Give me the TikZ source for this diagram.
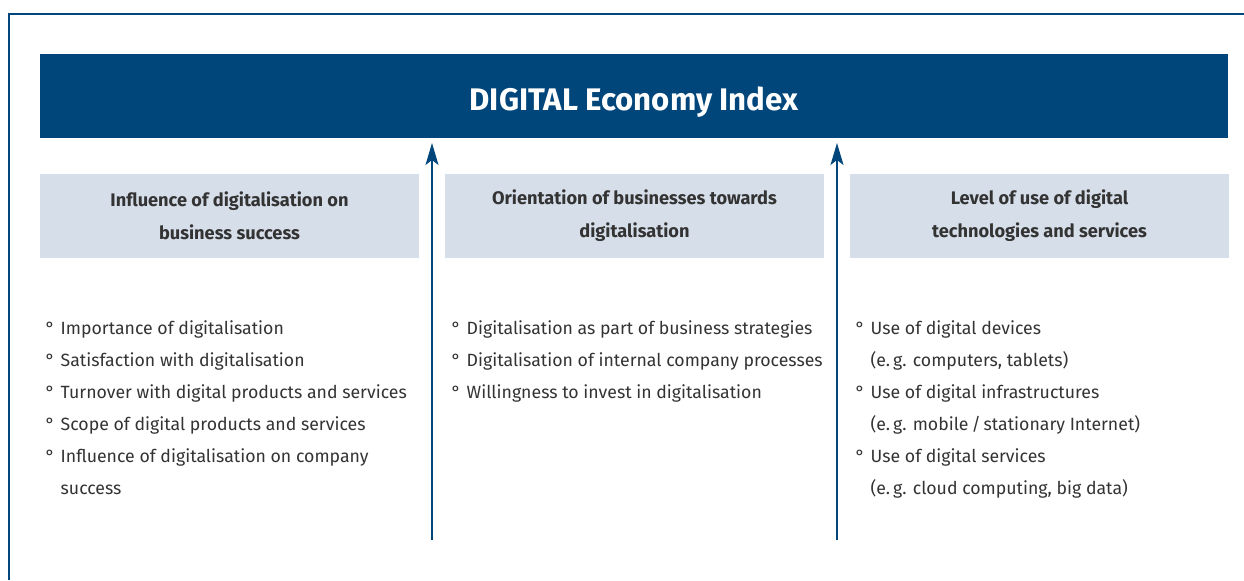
\documentclass[tikz,border=0pt]{standalone}
\usepackage{fontspec}
\setmainfont{Fira Sans}
\usepackage{xcolor}
\usepackage{tikz}
\usetikzlibrary{positioning}
\usetikzlibrary{arrows.meta}

\definecolor{indexblue}{RGB}{0,70,122}
\definecolor{headgray}{RGB}{214,222,233}
\definecolor{textgray}{RGB}{51,51,51}
\newcommand{\itm}{\makebox[7.5pt][l]{\textdegree}}
\newcommand{\cnt}{\hspace*{7.5pt}}

\begin{document}
\begin{tikzpicture}[x=0.5pt, y=-0.5pt, line width=0.7pt,
        headbox/.style={rectangle, fill=headgray, outer sep=0pt, minimum width=189.5pt,
            minimum height=42pt, align=center, text=textgray,
            font=\fontsize{9.1}{16.5}\selectfont\bfseries},
        itemlist/.style={anchor=north west, align=left, inner sep=0pt,
            text=textgray, font=\fontsize{8.85}{16}\selectfont},
        uparrow/.style={draw=indexblue, -{Stealth[length=11pt, width=6.5pt, inset=2.5pt]},
            shorten >=2.5pt}]
            \useasboundingbox (0,0) rectangle (1244,580);
            \draw[indexblue, line width=0.8pt] (9,580) -- (9,14) -- (1244,14);

            \node [rectangle, fill=indexblue, outer sep=0pt, minimum width=594pt, minimum height=42pt,
                text height=16pt, text depth=2pt,
                text=white, font=\fontsize{15.6}{18}\selectfont\bfseries] (index) at (634,96)
                {DIGITAL Economy Index};

            \node [headbox] (influence) at (229.5,216) {Influence of digitalisation on\\business success};
            \node [headbox, right=13pt of influence] (orientation) {Orientation of businesses towards\\digitalisation};
            \node [headbox, right=13pt of orientation] (level) {Level of use of digital\\technologies and services};

            \node [itemlist] (list1) at (45,320) {\itm Importance of digitalisation\\
                \itm Satisfaction with digitalisation\\
                \itm Turnover with digital products and services\\
                \itm Scope of digital products and services\\
                \itm Influence of digitalisation on company\\
                \cnt success};
            \node [itemlist] (list2) at (451,320) {\itm Digitalisation as part of business strategies\\
                \itm Digitalisation of internal company processes\\
                \itm Willingness to invest in digitalisation};
            \node [itemlist] (list3) at (855,320) {\itm Use of digital devices\\
                \cnt (e.\,g. computers, tablets)\\
                \itm Use of digital infrastructures\\
                \cnt (e.\,g. mobile\,/\,stationary Internet)\\
                \itm Use of digital services\\
                \cnt (e.\,g. cloud computing, big data)};

            \coordinate (foot1) at (432,540);
            \coordinate (foot2) at (837,540);
            \path (foot1) edge[uparrow] (foot1 |- index.south);
            \path (foot2) edge[uparrow] (foot2 |- index.south);
        \end{tikzpicture}
\end{document}
